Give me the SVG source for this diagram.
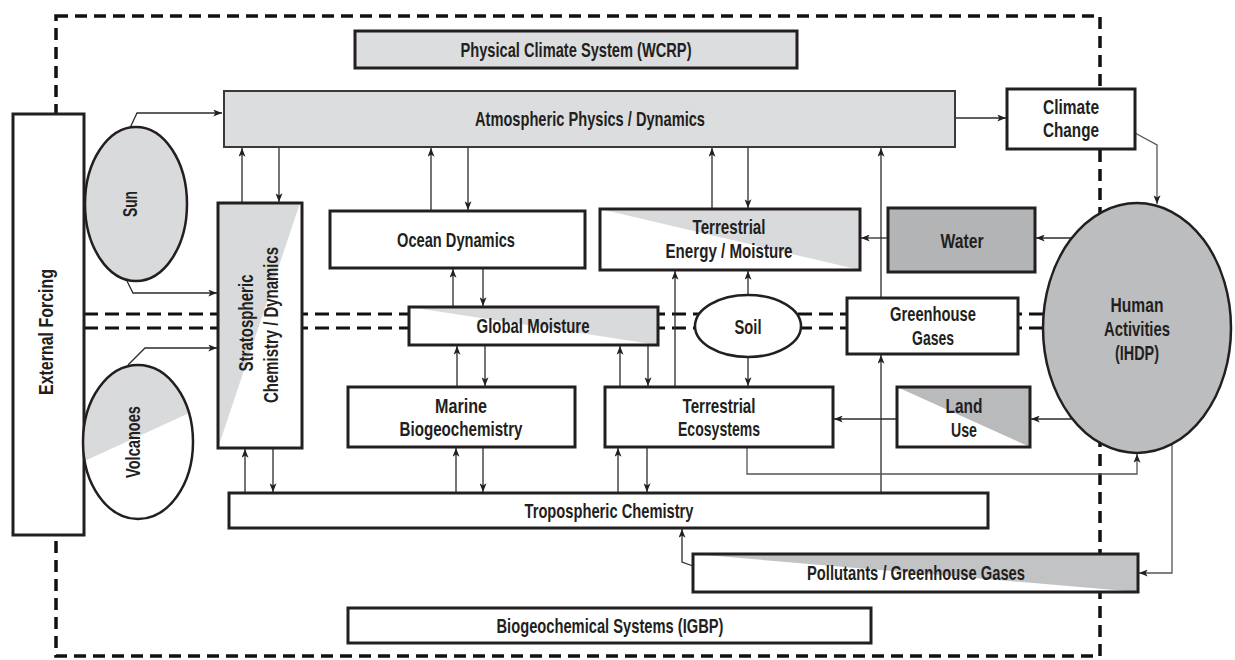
<svg xmlns="http://www.w3.org/2000/svg" width="1235" height="660" viewBox="0 0 1235 660">
<style>
.box{fill:#fff;stroke:#231f20;stroke-width:3}
.frame{fill:none;stroke:#231f20;stroke-width:3}
.line{fill:none;stroke:#2b2b2b;stroke-width:1.3}
.thin{fill:none;stroke:#555;stroke-width:1.3}
.dash{fill:none;stroke:#111;stroke-width:3.5;stroke-dasharray:12 7}
.hdash{fill:none;stroke:#111;stroke-width:3;stroke-dasharray:14 7}
.t{font-family:"Liberation Sans",Arial,sans-serif;font-weight:bold;font-size:21px;fill:#231f20;text-anchor:middle}
</style>
<defs>
<marker id="ah" viewBox="0 0 10 8" refX="10" refY="4" markerWidth="9" markerHeight="7" markerUnits="userSpaceOnUse" orient="auto">
<path d="M0,0 L10,4 L0,8 L2.5,4 z" fill="#231f20"/>
</marker>
<clipPath id="volc"><ellipse cx="138" cy="442" rx="55" ry="77"/></clipPath>
</defs>
<rect x="0" y="0" width="1235" height="660" fill="#fff"/>
<g id="borders">
<rect class="dash" x="56" y="16" width="1044" height="640"/>
<line class="hdash" x1="84" y1="314" x2="1060" y2="314"/>
<line class="hdash" x1="84" y1="328" x2="1060" y2="328"/>
</g>
<g id="connectors">
<path class="line" d="M130,128 L137,113 L222,113" marker-end="url(#ah)"/>
<path class="line" d="M127,281 L133,293 L217,293" marker-end="url(#ah)"/>
<path class="line" d="M128,365 L145,348 L217,348" marker-end="url(#ah)"/>
<path class="line" d="M242,202 L242,148" marker-end="url(#ah)"/>
<path class="line" d="M279,147 L279,202" marker-end="url(#ah)"/>
<path class="line" d="M431,210 L431,148" marker-end="url(#ah)"/>
<path class="line" d="M468,147 L468,210" marker-end="url(#ah)"/>
<path class="line" d="M712,208 L712,148" marker-end="url(#ah)"/>
<path class="line" d="M748,147 L748,208" marker-end="url(#ah)"/>
<path class="line" d="M881,297 L881,148" marker-end="url(#ah)"/>
<path class="line" d="M955,118 L1006,118" marker-end="url(#ah)"/>
<path class="thin" d="M1135,133 L1157,145 L1157,204" marker-end="url(#ah)"/>
<path class="line" d="M1072,238 L1036,238" marker-end="url(#ah)"/>
<path class="line" d="M888,238 L861,238" marker-end="url(#ah)"/>
<path class="line" d="M453,306 L453,269" marker-end="url(#ah)"/>
<path class="line" d="M483,268 L483,306" marker-end="url(#ah)"/>
<path class="line" d="M675,386 L675,271" marker-end="url(#ah)"/>
<path class="line" d="M748,295 L748,271" marker-end="url(#ah)"/>
<path class="line" d="M457,386 L457,346" marker-end="url(#ah)"/>
<path class="line" d="M485,345 L485,386" marker-end="url(#ah)"/>
<path class="line" d="M620,386 L620,346" marker-end="url(#ah)"/>
<path class="line" d="M648,345 L648,386" marker-end="url(#ah)"/>
<path class="line" d="M748,358 L748,386" marker-end="url(#ah)"/>
<path class="line" d="M1074,419 L1031,419" marker-end="url(#ah)"/>
<path class="line" d="M897,419 L834,419" marker-end="url(#ah)"/>
<path class="line" d="M881,492 L881,355" marker-end="url(#ah)"/>
<path class="thin" d="M747,447 L747,474 L1137,474 L1137,454" marker-end="url(#ah)"/>
<path class="line" d="M245,492 L245,449" marker-end="url(#ah)"/>
<path class="line" d="M273,448 L273,492" marker-end="url(#ah)"/>
<path class="line" d="M456,492 L456,448" marker-end="url(#ah)"/>
<path class="line" d="M483,447 L483,492" marker-end="url(#ah)"/>
<path class="line" d="M618,492 L618,448" marker-end="url(#ah)"/>
<path class="line" d="M647,447 L647,492" marker-end="url(#ah)"/>
<path class="thin" d="M1172,443 L1172,573 L1139,573" marker-end="url(#ah)"/>
<path class="line" d="M693,566 L682,562 L682,529" marker-end="url(#ah)"/>
</g>
<g id="physical-climate">
<rect class="frame" x="355" y="31" width="442" height="37" style="fill:#dcddde"/>
<text class="t" x="576" y="57" textLength="231" lengthAdjust="spacingAndGlyphs">Physical Climate System (WCRP)</text>
</g>
<g id="atmospheric">
<rect x="224" y="91" width="731" height="56" style="fill:#dcddde;stroke:#3a3a3a;stroke-width:2"/>
<text class="t" x="590" y="126" textLength="230" lengthAdjust="spacingAndGlyphs">Atmospheric Physics / Dynamics</text>
</g>
<g id="climate-change">
<rect class="box" x="1007" y="89" width="128" height="60"/>
<text class="t" x="1071" y="114" textLength="56" lengthAdjust="spacingAndGlyphs">Climate</text>
<text class="t" x="1071" y="137" textLength="56" lengthAdjust="spacingAndGlyphs">Change</text>
</g>
<g id="external-forcing">
<rect class="box" x="13" y="114" width="71" height="421"/>
<text class="t" transform="translate(53,332) rotate(-90)" textLength="126" lengthAdjust="spacingAndGlyphs">External Forcing</text>
</g>
<g id="sun">
<ellipse cx="136" cy="204" rx="51" ry="77" style="fill:#d9dadb;stroke:#231f20;stroke-width:2.5"/>
<text class="t" transform="translate(137,204) rotate(-90)" textLength="26" lengthAdjust="spacingAndGlyphs">Sun</text>
</g>
<g id="volcanoes">
<ellipse cx="138" cy="442" rx="55" ry="77" style="fill:#fff"/>
<polygon points="80,350 200,350 200,408 80,463" style="fill:#d9dadb" clip-path="url(#volc)"/>
<ellipse cx="138" cy="442" rx="55" ry="77" style="fill:none;stroke:#231f20;stroke-width:2.5"/>
<text class="t" transform="translate(140,442) rotate(-90)" textLength="72" lengthAdjust="spacingAndGlyphs">Volcanoes</text>
</g>
<g id="stratospheric">
<rect x="218" y="203" width="84" height="245" style="fill:#fff"/>
<polygon points="218,203 300,203 218,448" style="fill:#d9dadb"/>
<rect class="frame" x="218" y="203" width="84" height="245"/>
<text class="t" transform="translate(253,323) rotate(-90)" textLength="97" lengthAdjust="spacingAndGlyphs">Stratospheric</text>
<text class="t" transform="translate(278,325) rotate(-90)" textLength="156" lengthAdjust="spacingAndGlyphs">Chemistry / Dynamics</text>
</g>
<g id="ocean-dynamics">
<rect class="box" x="330" y="211" width="255" height="57"/>
<text class="t" x="456" y="247" textLength="118" lengthAdjust="spacingAndGlyphs">Ocean Dynamics</text>
</g>
<g id="terrestrial-energy">
<rect x="600" y="209" width="260" height="61" style="fill:#fff"/>
<polygon points="600,209 860,209 860,270" style="fill:#d9dadb"/>
<rect class="frame" x="600" y="209" width="260" height="61"/>
<text class="t" x="729" y="234" textLength="73" lengthAdjust="spacingAndGlyphs">Terrestrial</text>
<text class="t" x="729" y="258" textLength="127" lengthAdjust="spacingAndGlyphs">Energy / Moisture</text>
</g>
<g id="water">
<rect class="frame" x="888" y="208" width="147" height="64" style="fill:#b3b4b6"/>
<text class="t" x="962" y="248" textLength="43" lengthAdjust="spacingAndGlyphs">Water</text>
</g>
<g id="human-activities">
<ellipse cx="1137" cy="328" rx="94" ry="125" style="fill:#bcbdbf;stroke:#231f20;stroke-width:2.5"/>
<text class="t" x="1137" y="312" textLength="53" lengthAdjust="spacingAndGlyphs">Human</text>
<text class="t" x="1137" y="336" textLength="66" lengthAdjust="spacingAndGlyphs">Activities</text>
<text class="t" x="1137" y="360" textLength="44" lengthAdjust="spacingAndGlyphs">(IHDP)</text>
</g>
<g id="global-moisture">
<rect x="409" y="307" width="249" height="38" style="fill:#fff"/>
<polygon points="409,307 658,307 658,345" style="fill:#d9dadb"/>
<rect class="frame" x="409" y="307" width="249" height="38"/>
<text class="t" x="533" y="333" textLength="113" lengthAdjust="spacingAndGlyphs">Global Moisture</text>
</g>
<g id="soil">
<ellipse cx="748" cy="326" rx="53" ry="31" style="fill:#fff;stroke:#231f20;stroke-width:2.5"/>
<text class="t" x="748" y="334" textLength="27" lengthAdjust="spacingAndGlyphs">Soil</text>
</g>
<g id="greenhouse-gases">
<rect class="box" x="847" y="298" width="171" height="56"/>
<text class="t" x="933" y="321" textLength="86" lengthAdjust="spacingAndGlyphs">Greenhouse</text>
<text class="t" x="933" y="345" textLength="42" lengthAdjust="spacingAndGlyphs">Gases</text>
</g>
<g id="marine">
<rect class="box" x="348" y="387" width="227" height="60"/>
<text class="t" x="461" y="413" textLength="52" lengthAdjust="spacingAndGlyphs">Marine</text>
<text class="t" x="461" y="436" textLength="123" lengthAdjust="spacingAndGlyphs">Biogeochemistry</text>
</g>
<g id="terrestrial-ecosystems">
<rect class="box" x="605" y="387" width="228" height="60"/>
<text class="t" x="719" y="413" textLength="73" lengthAdjust="spacingAndGlyphs">Terrestrial</text>
<text class="t" x="719" y="436" textLength="82" lengthAdjust="spacingAndGlyphs">Ecosystems</text>
</g>
<g id="land-use">
<rect x="897" y="387" width="133" height="60" style="fill:#fff"/>
<polygon points="897,387 1030,387 1030,447" style="fill:#b9babc"/>
<rect class="frame" x="897" y="387" width="133" height="60"/>
<text class="t" x="964" y="413" textLength="37" lengthAdjust="spacingAndGlyphs">Land</text>
<text class="t" x="964" y="437" textLength="26" lengthAdjust="spacingAndGlyphs">Use</text>
</g>
<g id="tropospheric">
<rect class="box" x="229" y="493" width="759" height="35"/>
<text class="t" x="609" y="518" textLength="169" lengthAdjust="spacingAndGlyphs">Tropospheric Chemistry</text>
</g>
<g id="pollutants">
<rect x="693" y="554" width="445" height="38" style="fill:#fff"/>
<polygon points="693,554 1138,554 1138,592" style="fill:#c2c3c5"/>
<rect class="frame" x="693" y="554" width="445" height="38"/>
<text class="t" x="916" y="580" textLength="218" lengthAdjust="spacingAndGlyphs">Pollutants / Greenhouse Gases</text>
</g>
<g id="biogeochemical">
<rect class="box" x="348" y="608" width="523" height="35"/>
<text class="t" x="610" y="633" textLength="227" lengthAdjust="spacingAndGlyphs">Biogeochemical Systems (IGBP)</text>
</g>
</svg>
